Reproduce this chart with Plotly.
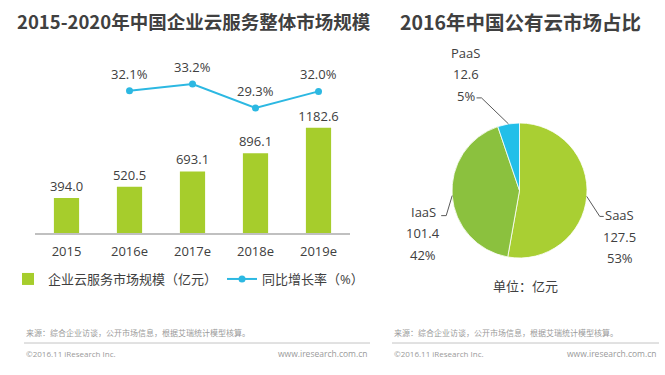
import math
import plotly.graph_objects as go

# ---------------- data ----------------
years = ["2015", "2016e", "2017e", "2018e", "2019e"]
market_size = [394.0, 520.5, 693.1, 896.1, 1182.6]
growth_years = ["2016e", "2017e", "2018e", "2019e"]
growth_rate = [32.1, 33.2, 29.3, 32.0]

pie_labels = ["SaaS", "IaaS", "PaaS"]
pie_values = [127.5, 101.4, 12.6]

left_title = "2015-2020年中国企业云服务整体市场规模"
right_title = "2016年中国公有云市场占比"
bar_name = "企业云服务市场规模（亿元）"
line_name = "同比增长率（%）"
unit_note = "单位：亿元"
source_note = "来源：综合企业访谈，公开市场信息，根据艾瑞统计模型核算。"
copyright_note = "©2016.11 iResearch Inc."
site_note = "www.iresearch.com.cn"

# ---------------- style ----------------
W, H = 665, 375
FONT = "Open Sans, Noto Sans CJK SC, sans-serif"
TITLE_FONT = "Noto Sans CJK SC, sans-serif"
TXT = "#404040"
BAR_C = "#a6cd2c"
LINE_C = "#2cb8e2"
PIE_C = ["#a9cf33", "#8bc13e", "#22bfe9"]


def px(x):
    return x / W


def py(y):
    return 1 - y / H


fig = go.Figure()

fig.add_trace(go.Bar(
    x=years, y=market_size, name=bar_name, width=0.4,
    marker=dict(color=BAR_C, line=dict(width=0)),
    text=[f"{v:.1f}" for v in market_size], textposition="outside",
    constraintext="none",
    textfont=dict(size=13, color=TXT, family=FONT), cliponaxis=False,
    hoverinfo="x+y",
))
fig.add_trace(go.Scatter(
    x=growth_years, y=growth_rate, name=line_name, yaxis="y2",
    mode="lines+markers", line=dict(color=LINE_C, width=2),
    marker=dict(color=LINE_C, size=7), cliponaxis=False,
))

annotations = []
shapes = []

# growth-rate labels above the points
for gx, gv in zip(growth_years, growth_rate):
    annotations.append(dict(
        x=gx, y=gv, xref="x", yref="y2", text=f"{gv:.1f}%", showarrow=False,
        yshift=17, xanchor="center", yanchor="middle",
        font=dict(size=13, color=TXT, family=FONT)))

# pie
pie_dom_x = [px(452), px(587)]
pie_dom_y = [py(258), py(123)]
fig.add_trace(go.Pie(
    labels=pie_labels, values=pie_values, sort=False, direction="clockwise",
    rotation=0, textinfo="none", showlegend=False,
    marker=dict(colors=PIE_C, line=dict(color="white", width=0.8)),
    domain=dict(x=pie_dom_x, y=pie_dom_y),
))

# pie labels with leader lines computed from slice mid-angles
cx, cy, r = 519.5, 190.5, 67.5
total = sum(pie_values)
# style offsets per label: (text center dx, first-line dy, elbow dx, elbow dy, hook)
label_style = {
    "SaaS": (33, 19, 13, 20, 4),
    "IaaS": (-29, 16, -6, 20, -5),
    "PaaS": (-42.5, -71, -27, -26, -5),
}
cum = 0.0
for lab, val in zip(pie_labels, pie_values):
    mid = (cum + val / 2) / total * 2 * math.pi
    cum += val
    ex = cx + r * math.sin(mid)
    ey = cy - r * math.cos(mid)
    tdx, tdy, edx, edy, hook = label_style[lab]
    lines = [lab, f"{val:g}", f"{round(val / total * 100)}%"]
    for i, t in enumerate(lines):
        annotations.append(dict(
            x=px(ex + tdx), y=py(ey + tdy + i * 21.5), xref="paper", yref="paper",
            text=t, showarrow=False, xanchor="center", yanchor="middle",
            font=dict(size=13, color=TXT, family=FONT)))
    bx, by = ex + edx, ey + edy
    shapes.append(dict(
        type="path", xref="paper", yref="paper",
        path=f"M {px(ex)},{py(ey)} L {px(bx)},{py(by)} L {px(bx + hook)},{py(by)}",
        line=dict(color="#595959", width=1)))

# titles
annotations.append(dict(x=px(194), y=py(21), xref="paper", yref="paper", text=f"<b>{left_title}</b>",
                        showarrow=False, xanchor="center", yanchor="middle",
                        font=dict(size=18.5, color=TXT, family=TITLE_FONT)))
annotations.append(dict(x=px(520), y=py(21), xref="paper", yref="paper", text=f"<b>{right_title}</b>",
                        showarrow=False, xanchor="center", yanchor="middle",
                        font=dict(size=19.5, color=TXT, family=TITLE_FONT)))
annotations.append(dict(x=px(525), y=py(286), xref="paper", yref="paper", text=unit_note,
                        showarrow=False, xanchor="center", yanchor="middle",
                        font=dict(size=13, color=TXT, family=FONT)))

# footers
for x0, x1 in [(24, 370), (392, 659)]:
    annotations.append(dict(x=px(x0), y=py(332), xref="paper", yref="paper", text=source_note,
                            showarrow=False, xanchor="left", yanchor="middle",
                            font=dict(size=8, color="#9a9a9a", family=FONT)))
    annotations.append(dict(x=px(x0), y=py(353), xref="paper", yref="paper", text=copyright_note,
                            showarrow=False, xanchor="left", yanchor="middle",
                            font=dict(size=8, color="#9a9a9a", family=FONT)))
    annotations.append(dict(x=px(x1), y=py(353), xref="paper", yref="paper", text=site_note,
                            showarrow=False, xanchor="right", yanchor="middle",
                            font=dict(size=8.5, color="#9a9a9a", family=FONT)))
    shapes.append(dict(type="line", xref="paper", yref="paper", x0=px(x0), x1=px(x1),
                       y0=py(343), y1=py(343), line=dict(color="#c4c4c4", width=1)))

fig.update_layout(
    width=W, height=H, autosize=False,
    margin=dict(l=0, r=0, t=0, b=0),
    paper_bgcolor="white", plot_bgcolor="white",
    font=dict(family=FONT, color=TXT),
    xaxis=dict(domain=[px(35), px(350)], type="category", range=[-0.5, 4.5],
               showline=True, linecolor="#c0c0c0", linewidth=1.5, ticks="",
               showgrid=False, zeroline=False, ticklabelstandoff=6,
               tickfont=dict(size=13, color=TXT, family=FONT)),
    yaxis=dict(domain=[py(233), py(60)], range=[0, 1946], visible=False, fixedrange=True),
    yaxis2=dict(domain=[py(233), py(60)], range=[9.0, 37.1], overlaying="y", visible=False),
    legend=dict(orientation="h", x=px(8), y=py(279), xanchor="left", yanchor="middle",
                font=dict(size=13, color=TXT, family=FONT), bgcolor="rgba(0,0,0,0)",
                itemclick=False),
    annotations=annotations,
    shapes=shapes,
)

fig.write_html("out.html", config={"displayModeBar": False},
               post_script="document.body.style.margin='0';document.body.style.overflow='hidden';")
